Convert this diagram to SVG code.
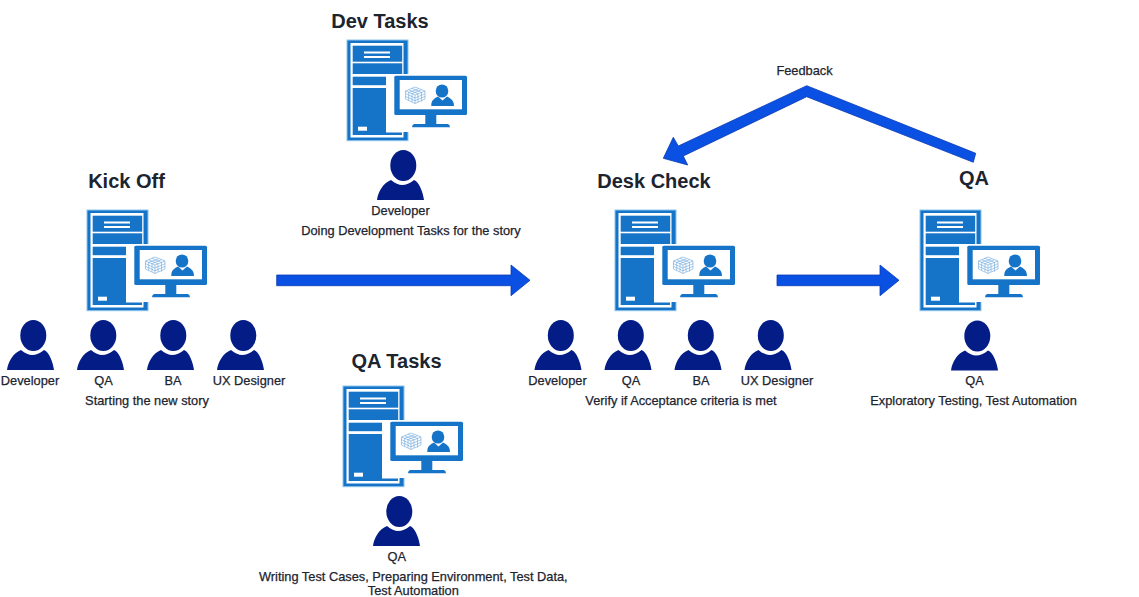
<svg xmlns="http://www.w3.org/2000/svg" xmlns:xlink="http://www.w3.org/1999/xlink" width="1139" height="597" viewBox="0 0 1139 597">
<style>
text{font-family:"Liberation Sans",Arial,sans-serif;text-anchor:middle;fill:#1c2430}
.h{font-size:20px;font-weight:bold}
.l{font-size:12.8px;stroke:#1c2430;stroke-width:.25px}
.b{fill:#1674c8}
.w{fill:#fff}
.arrow{fill:#0a50e2;stroke:#0a3ab4;stroke-width:.8;stroke-linejoin:round}
.p{fill:#041c86}
</style>
<defs>
<g id="icon">
<rect class="b" x="0" y="0" width="61" height="100.7" stroke="#8cc4ee" stroke-width="1"/>
<rect class="w" x="3.500" y="3" width="53" height="94.500"/>
<rect class="b" x="5.700" y="5.700" width="49.500" height="16"/>
<rect class="w" x="17" y="11.500" width="26" height="2"/>
<rect class="w" x="17" y="16" width="26" height="2"/>
<rect class="b" x="5.700" y="23.300" width="49.500" height="10.700"/>
<rect class="b" x="5.700" y="36.700" width="33.300" height="8.500"/>
<rect class="b" x="5.700" y="48" width="33.300" height="47"/>
<rect class="b" x="39" y="92.500" width="16" height="2.500"/>
<rect class="w" x="11" y="86.700" width="9" height="4"/>
<rect class="w" x="42" y="34" width="20" height="58"/>
<rect class="b" x="47.300" y="35.700" width="72.700" height="39.300" rx="1.500"/>
<rect class="w" x="52.700" y="40" width="62.300" height="29.300"/>
<rect class="b" x="78.300" y="75" width="11" height="9.500"/>
<path class="b" d="M67 84H101Q103 85 103 87.300H65Q65 85 67 84Z"/>
<g fill="none" stroke="#6aa6dc" stroke-width=".6">
<path d="M58.500 51L68 47L78 51V59L68 63.500L58.500 59Z"/>
<path d="M58.500 51L68 55L78 51M68 55V63.500M58.500 53.700L68 58L78 53.700M58.500 56.400L68 60.700L78 56.400M61.700 49.700L71 53.700V62M65 48.300L74.500 52.500V61.500M61.700 52.300V60.500M65 53.700V62M71.300 49L61.700 52.300M74.500 49.700L65 53.700"/>
</g>
<ellipse class="b" cx="95" cy="51" rx="6.300" ry="6.600"/>
<path class="b" d="M84.300 66C84 60.500 87 58.500 91 56.500L95.500 60.500L100 56.500C104 58.500 107 60.500 107 66Z"/>
</g>
<g id="person">
<ellipse class="p" cx="26.300" cy="15.500" rx="13" ry="15.500"/>
<path class="p" d="M0 50C1 42 6 33 14 30C18 33.500 22 35 25 35C29 35 33 33.500 37 30C42 32 46 42 47 50Z"/>
</g>
</defs>
<rect width="1139" height="597" fill="#fff"/>
<g id="connectors">
<polygon class="arrow" points="276.700,275 511,275 511,265 530,280.300 511,295.700 511,285.700 276.700,285.700"/>
<polygon class="arrow" points="777,275 880,275 880,265 899,280.300 880,295.700 880,285.700 777,285.700"/>
<polygon class="arrow" points="975.700,153.300 806.700,85.700 678.300,146 673.300,137.300 663.300,158.300 687.700,165 683.300,156 806.700,96.700 973.300,162.300"/>
<text x="804.500" y="75" class="l">Feedback</text>
</g>
<g id="kickoff">
<text x="126.500" y="188" class="h">Kick Off</text>
<use xlink:href="#icon" href="#icon" x="87" y="210"/>
<use xlink:href="#person" href="#person" x="7" y="320"/>
<use xlink:href="#person" href="#person" x="77" y="320"/>
<use xlink:href="#person" href="#person" x="147" y="320"/>
<use xlink:href="#person" href="#person" x="217" y="320"/>
<text x="30" y="385" class="l">Developer</text>
<text x="103.500" y="385" class="l">QA</text>
<text x="173" y="385" class="l">BA</text>
<text x="249" y="385" class="l">UX Designer</text>
<text x="147" y="405" class="l">Starting the new story</text>
</g>
<g id="devtasks">
<text x="380" y="28" class="h">Dev Tasks</text>
<use xlink:href="#icon" href="#icon" x="347" y="40"/>
<use xlink:href="#person" href="#person" x="377" y="150"/>
<text x="400.500" y="215" class="l">Developer</text>
<text x="411" y="235" class="l">Doing Development Tasks for the story</text>
</g>
<g id="qatasks">
<text x="396.500" y="368" class="h">QA Tasks</text>
<use xlink:href="#icon" href="#icon" x="343" y="386"/>
<use xlink:href="#person" href="#person" x="373" y="496"/>
<text x="396.700" y="561" class="l">QA</text>
<text x="413.300" y="581" class="l">Writing Test Cases, Preparing Environment, Test Data,</text>
<text x="413.300" y="595" class="l">Test Automation</text>
</g>
<g id="deskcheck">
<text x="654" y="188" class="h">Desk Check</text>
<use xlink:href="#icon" href="#icon" x="615" y="210"/>
<use xlink:href="#person" href="#person" x="534.500" y="320"/>
<use xlink:href="#person" href="#person" x="604.500" y="320"/>
<use xlink:href="#person" href="#person" x="674.500" y="320"/>
<use xlink:href="#person" href="#person" x="744.500" y="320"/>
<text x="557.500" y="385" class="l">Developer</text>
<text x="631" y="385" class="l">QA</text>
<text x="701" y="385" class="l">BA</text>
<text x="777" y="385" class="l">UX Designer</text>
<text x="681" y="405" class="l">Verify if Acceptance criteria is met</text>
</g>
<g id="qa">
<text x="974" y="185" class="h">QA</text>
<use xlink:href="#icon" href="#icon" x="920" y="210"/>
<use xlink:href="#person" href="#person" x="951" y="320.500"/>
<text x="974.500" y="385" class="l">QA</text>
<text x="973.500" y="405" class="l">Exploratory Testing, Test Automation</text>
</g>
</svg>
